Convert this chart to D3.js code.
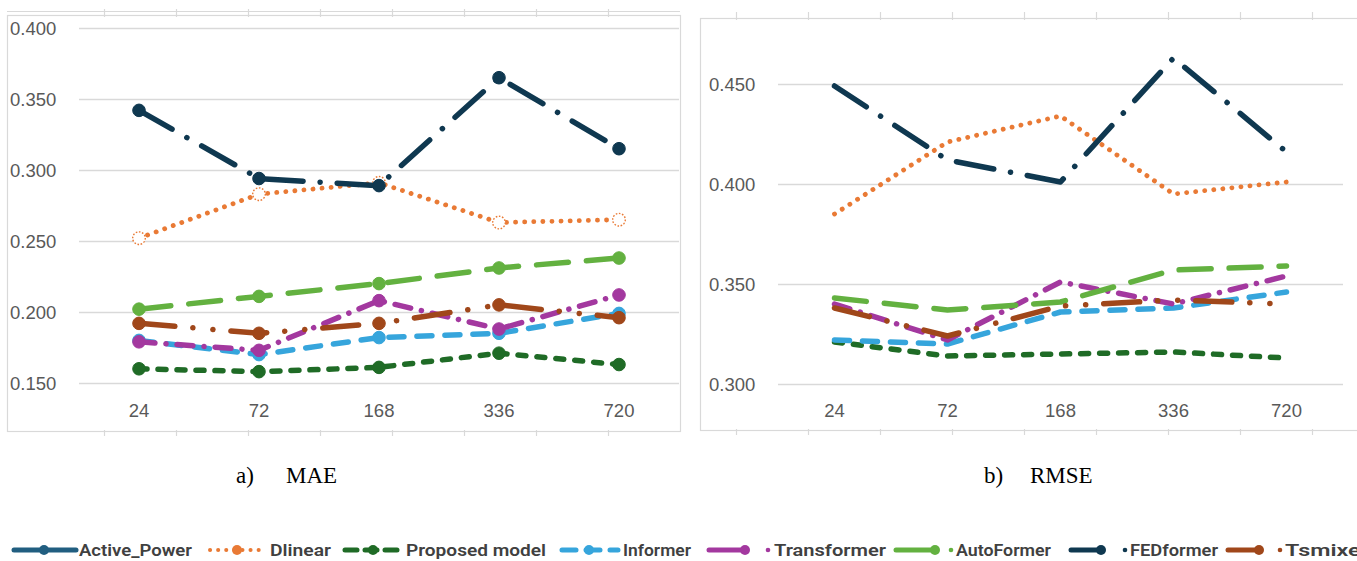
<!DOCTYPE html>
<html>
<head>
<meta charset="utf-8">
<script src="https://cdn.jsdelivr.net/npm/d3@7"></script>
<style>
  body { margin: 0; background: #fff; }
  svg { display: block; }
</style>
</head>
<body>
<svg id="chart" width="1357" height="561"></svg>
<script>
// Forecast horizons shared by both panels
const horizons = ["24", "72", "168", "336", "720"];

// Legend order (Active_Power appears only in the legend)
const seriesNames = ["Active_Power", "Dlinear", "Proposed model", "Informer",
                     "Transformer", "AutoFormer", "FEDformer", "Tsmixer"];

// MAE per horizon
const maeDlinear     = [0.252, 0.283, 0.291, 0.263, 0.265];
const maeProposed    = [0.160, 0.158, 0.161, 0.171, 0.163];
const maeInformer    = [0.180, 0.170, 0.182, 0.185, 0.199];
const maeTransformer = [0.179, 0.173, 0.208, 0.188, 0.212];
const maeAutoFormer  = [0.202, 0.211, 0.220, 0.231, 0.238];
const maeFEDformer   = [0.342, 0.294, 0.289, 0.365, 0.315];
const maeTsmixer     = [0.192, 0.185, 0.192, 0.205, 0.196];

// RMSE per horizon
const rmseDlinear     = [0.385, 0.421, 0.434, 0.395, 0.401];
const rmseProposed    = [0.321, 0.314, 0.315, 0.316, 0.313];
const rmseInformer    = [0.322, 0.320, 0.336, 0.338, 0.346];
const rmseTransformer = [0.340, 0.322, 0.351, 0.340, 0.354];
const rmseAutoFormer  = [0.343, 0.337, 0.341, 0.357, 0.359];
const rmseFEDformer   = [0.449, 0.412, 0.401, 0.463, 0.416];
const rmseTsmixer     = [0.338, 0.324, 0.339, 0.342, 0.340];

// Axis tick values
const maeTicks  = [0.150, 0.200, 0.250, 0.300, 0.350, 0.400];
const rmseTicks = [0.300, 0.350, 0.400, 0.450];

// Panel captions
const captions = [["a)", "MAE"], ["b)", "RMSE"]];

// Line styling per model
const styles = {
  "Active_Power":   { color: "#215e80", dash: null,                  width: 5.5 },
  "Dlinear":        { color: "#e97a35", dash: "0.1 9",               width: 4.8 },
  "Proposed model": { color: "#1f6b26", dash: "8 11",                width: 5.5 },
  "Informer":       { color: "#36a5dc", dash: "15 13",               width: 5.5 },
  "Transformer":    { color: "#a3389f", dash: "16 11 0.1 11",        width: 5.5 },
  "AutoFormer":     { color: "#63b140", dash: "32 18",               width: 5.5 },
  "FEDformer":      { color: "#0f3850", dash: "38 17 0.1 17",        width: 5.5 },
  "Tsmixer":        { color: "#a0471a", dash: "36 18 0.1 20 0.1 18", width: 5.5 }
};

const maeSeries = [
  ["Dlinear", maeDlinear], ["Proposed model", maeProposed], ["Informer", maeInformer],
  ["Transformer", maeTransformer], ["AutoFormer", maeAutoFormer],
  ["FEDformer", maeFEDformer], ["Tsmixer", maeTsmixer]
];
const rmseSeries = [
  ["Dlinear", rmseDlinear], ["Proposed model", rmseProposed], ["Informer", rmseInformer],
  ["Transformer", rmseTransformer], ["AutoFormer", rmseAutoFormer],
  ["FEDformer", rmseFEDformer], ["Tsmixer", rmseTsmixer]
];

const svg = d3.select("#chart");
const frameColor = "#d9d9d9";
const labelColor = "#595959";

// Light sheet frame around each panel, with the cell ticks along its edges
function drawFrame(x0, x1, yTop, yBottom, topRule, tickStart) {
  const g = svg.append("g");
  g.append("rect").attr("x", x0 + 0.5).attr("y", yTop + 0.5)
    .attr("width", x1 - x0).attr("height", yBottom - yTop)
    .attr("fill", "none").attr("stroke", frameColor).attr("stroke-width", 1.2);
  if (topRule !== null) {
    g.append("line").attr("x1", x0).attr("x2", x1)
      .attr("y1", topRule + 0.5).attr("y2", topRule + 0.5)
      .attr("stroke", frameColor).attr("stroke-width", 1.2);
  }
  const ticks = d3.range(tickStart, x1, 72);
  g.selectAll(".tt").data(ticks).join("line")
    .attr("x1", d => d + 0.5).attr("x2", d => d + 0.5)
    .attr("y1", yTop - 6).attr("y2", yTop + 2)
    .attr("stroke", frameColor).attr("stroke-width", 1.2);
  g.selectAll(".bt").data(ticks).join("line")
    .attr("x1", d => d + 0.5).attr("x2", d => d + 0.5)
    .attr("y1", yBottom - 1).attr("y2", yBottom + 5)
    .attr("stroke", frameColor).attr("stroke-width", 1.2);
}

drawFrame(7, 680, 15, 431, 11, 104);
drawFrame(700, 1360, 18, 430, null, 736);

function drawPanel(cfg) {
  const x = d3.scaleBand().domain(horizons).range([cfg.left, cfg.right]);
  const cx = d => x(d) + x.bandwidth() / 2;
  const y = d3.scaleLinear().domain(cfg.domain).range(cfg.yRange);
  const g = svg.append("g");

  // Horizontal gridlines with value labels
  const yAxis = d3.axisLeft(y).tickValues(cfg.ticks)
    .tickFormat(d3.format(".3f")).tickSize(-(cfg.right - cfg.left)).tickPadding(0);
  const ya = g.append("g").attr("transform", `translate(${cfg.left},0)`).call(yAxis);
  ya.select(".domain").remove();
  ya.selectAll(".tick line").attr("stroke", frameColor).attr("stroke-width", 1.3);
  ya.selectAll(".tick text")
    .attr("x", cfg.labelX - cfg.left).attr("dy", "0.35em")
    .attr("text-anchor", "start")
    .attr("fill", labelColor)
    .style("font-family", "'Liberation Sans', Arial, sans-serif")
    .style("font-size", "18.5px");

  // Category labels under the plot
  const xAxis = d3.axisBottom(x).tickSize(0).tickPadding(0);
  const xa = g.append("g").attr("transform", `translate(0,${cfg.xLabelY})`).call(xAxis);
  xa.select(".domain").remove();
  xa.selectAll(".tick text")
    .attr("dy", "0.35em")
    .attr("fill", labelColor)
    .style("font-family", "'Liberation Sans', Arial, sans-serif")
    .style("font-size", "18.5px");

  const line = d3.line().x((d, i) => cx(horizons[i])).y(d => y(d));

  cfg.series.forEach(([name, vals]) => {
    const s = styles[name];
    g.append("path").datum(vals)
      .attr("d", line)
      .attr("fill", "none")
      .attr("stroke", s.color)
      .attr("stroke-width", s.width)
      .attr("stroke-linecap", "round")
      .attr("stroke-linejoin", "round")
      .attr("stroke-dasharray", s.dash);

    if (cfg.markers) {
      const hollow = name === "Dlinear";
      g.selectAll(null).data(vals).join("circle")
        .attr("cx", (d, i) => cx(horizons[i]))
        .attr("cy", d => y(d))
        .attr("r", hollow ? 6.3 : 6.3)
        .attr("fill", hollow ? "#fff" : s.color)
        .attr("stroke", s.color)
        .attr("stroke-width", hollow ? 1.4 : 1)
        .attr("stroke-dasharray", hollow ? "1.6 1.6" : null);
    }
  });
}

drawPanel({
  left: 79, right: 679, domain: [0.15, 0.40], yRange: [383, 28],
  ticks: maeTicks, labelX: 10, xLabelY: 411, series: maeSeries, markers: true
});
drawPanel({
  left: 778, right: 1343, domain: [0.30, 0.45], yRange: [384, 84],
  ticks: rmseTicks, labelX: 709, xLabelY: 411, series: rmseSeries, markers: false
});

// Captions under the panels
const capPos = [[236, 286], [984, 1030]];
captions.forEach(([tag, label], i) => {
  const t = svg.append("g")
    .style("font-family", "'Liberation Serif', 'Times New Roman', serif")
    .style("font-size", "23px").attr("fill", "#000");
  t.append("text").attr("x", capPos[i][0]).attr("y", 483).text(tag);
  t.append("text").attr("x", capPos[i][1]).attr("y", 483).text(label);
});

// Legend strip: symbol extent, marker, trailing dot, text start and text width
const legendLayout = [
  { x0: 14,   x1: 76,   m: 44,   dot: null, tx: 79,   tw: 113 },
  { x0: 210,  x1: 266,  m: 237,  dot: null, tx: 270,  tw: 61 },
  { x0: 345,  x1: 402,  m: 373,  dot: null, tx: 406,  tw: 140 },
  { x0: 562,  x1: 618,  m: 589,  dot: null, tx: 623,  tw: 68 },
  { x0: 709,  x1: 745,  m: 745,  dot: 768,  tx: 774,  tw: 112 },
  { x0: 896,  x1: 935,  m: 935,  dot: 951,  tx: 956,  tw: 95 },
  { x0: 1071, x1: 1101, m: 1101, dot: 1125, tx: 1130, tw: 88 },
  { x0: 1228, x1: 1259, m: 1259, dot: 1280, tx: 1285, tw: 84 }
];
const legendDash = { "Dlinear": "0.1 8", "Proposed model": "12 8", "Informer": "14 10" };
const legY = 550;
const lg = svg.append("g");
seriesNames.forEach((name, i) => {
  const s = styles[name];
  const L = legendLayout[i];
  lg.append("line").attr("x1", L.x0).attr("x2", L.x1)
    .attr("y1", legY).attr("y2", legY)
    .attr("stroke", s.color).attr("stroke-width", name === "Dlinear" ? 4 : 5)
    .attr("stroke-linecap", "round")
    .attr("stroke-dasharray", legendDash[name] || null);
  lg.append("circle").attr("cx", L.m).attr("cy", legY).attr("r", 5)
    .attr("fill", s.color);
  if (L.dot !== null) {
    lg.append("circle").attr("cx", L.dot).attr("cy", legY).attr("r", 2.3)
      .attr("fill", s.color);
  }
  lg.append("text").attr("x", L.tx).attr("y", legY + 6)
    .attr("textLength", L.tw).attr("lengthAdjust", "spacingAndGlyphs")
    .attr("fill", "#404040")
    .style("font-family", "Roboto, 'Liberation Sans', sans-serif")
    .style("font-weight", "600")
    .style("font-size", "17px")
    .text(name);
});
</script>
</body>
</html>
